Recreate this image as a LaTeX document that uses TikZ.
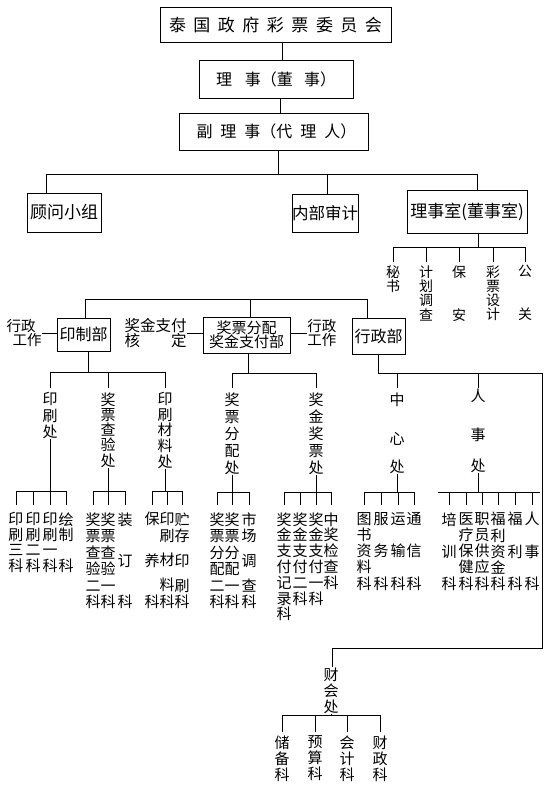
\documentclass[tikz,border=0pt]{standalone}
\usepackage{fontspec}
\newfontfamily\cjk{Noto Sans CJK SC}
\lineskiplimit=-30pt
\tikzset{
  fA/.style={font=\cjk\fontsize{17}{20}\selectfont},
  fB/.style={font=\cjk\fontsize{16}{19}\selectfont},
  fC/.style={font=\cjk\fontsize{16.5}{20}\selectfont},
  fU/.style={font=\cjk\fontsize{14}{14.3}\selectfont},
  fJ/.style={font=\cjk\fontsize{15}{14.5}\selectfont},
  fL/.style={font=\cjk\fontsize{14.5}{14.5}\selectfont},
  fH/.style={font=\cjk\fontsize{15.5}{15.5}\selectfont},
  f153/.style={font=\cjk\fontsize{15}{15.3}\selectfont},
  f155/.style={font=\cjk\fontsize{15}{15.5}\selectfont},
  f156/.style={font=\cjk\fontsize{15}{15.6}\selectfont},
  f158/.style={font=\cjk\fontsize{15}{15.8}\selectfont},
  f160/.style={font=\cjk\fontsize{15}{16}\selectfont},
  f162/.style={font=\cjk\fontsize{15}{16.2}\selectfont},
  f165/.style={font=\cjk\fontsize{15}{16.5}\selectfont},
  f170/.style={font=\cjk\fontsize{15}{17}\selectfont},
  bx/.style={draw,inner sep=0pt},
  vc/.style={align=center,anchor=north,inner sep=0pt},
  tk/.style={shorten >=#1},
  lab/.style={inner sep=0pt}
}
\begin{document}
\begin{tikzpicture}[x=1pt,y=-1pt,line width=0.85pt]
\useasboundingbox (0,0) rectangle (557,795);

% ---------- top chain
\node[bx,fA,minimum width=231pt,minimum height=35pt] (n1) at (275.5,24.5)
  {泰\hspace{7.5pt}国\hspace{7.5pt}政\hspace{7.5pt}府\hspace{7.5pt}彩\hspace{7.5pt}票\hspace{7.5pt}委\hspace{7.5pt}员\hspace{7.5pt}会};
\node[bx,fB,minimum width=154pt,minimum height=38pt] (n2) at (276,79)
  {理\hspace{13pt}事（董\hspace{11pt}事）};
\node[bx,fB,minimum width=189pt,minimum height=37pt] (n3) at (273.5,131.5)
  {\hspace*{6pt}副\hspace{8pt}理\hspace{8pt}事（代\hspace{8pt}理\hspace{8pt}人）};
\coordinate (k1) at (282,0);
\coordinate (k2) at (280,0);
\draw (n1.south -| k1) -- (n2.north -| k1);
\draw (n2.south -| k2) -- (n3.north -| k2);

% ---------- second level
\coordinate (tr) at (278,174);
\coordinate (h1) at (46,174);
\coordinate (h2) at (327,174);
\coordinate (h3) at (477,174);
\node[bx,fA,minimum width=74pt,minimum height=39pt] (gw) at (64,212.5) {顾问小组};
\node[bx,fC,minimum width=66pt,minimum height=38pt] (nb) at (325,213) {内部审计};
\node[bx,fA,minimum width=120pt,minimum height=43pt] (ls) at (467,211.5) {理事室(董事室)};
\draw (n3.south -| tr) -- (tr);
\draw (h1) -- (h3);
\draw (h1) -- (h1 |- gw.north);
\draw (h2) -- (h2 |- nb.north);
\draw (h3) -- (h3 |- ls.north);

% ---------- staff under ls
\coordinate (q) at (478,247);
\node[vc,fU] (ms) at (393,265) {秘\\书};
\node[vc,fU] (jh) at (426,265) {计\\划\\调\\查};
\node[vc,fU] (ba) at (459,265) {保\\[28.6pt]安};
\node[vc,fU] (cp) at (493,265) {彩\\票\\设\\计};
\node[vc,fU] (gg) at (525,265) {公\\[28.6pt]关};
\draw (ls.south -| q) -- (q);
\draw (ms.north |- q) -- (gg.north |- q);
\foreach \n in {ms,jh,ba,cp,gg}
  \draw[tk=3pt] (\n.north |- q) -- (\n.north);

% ---------- departments
\coordinate (m1) at (85,299);
\coordinate (m2) at (250,299);
\coordinate (m3) at (367,299);
\node[bx,fB,minimum width=53pt,minimum height=33pt] (yz) at (83.5,334.5) {印制部};
\node[bx,fJ,align=center,minimum width=87pt,minimum height=36pt] (jp) at (246.5,335) {奖票分配\\奖金支付部};
\node[bx,fB,minimum width=53pt,minimum height=36pt] (xz) at (378.5,336) {行政部};
\draw (m1) -- (m3);
\draw (m1) -- (m1 |- yz.north);
\draw (m2) -- (m2 |- jp.north);
\draw (m3) -- (m3 |- xz.north);

\node[lab,fL,align=left,anchor=east] (lx) at (42,333) {行政\\\hspace*{6pt}工作};
\node[lab,fH,align=left,anchor=east] (hd) at (187,333) {奖金支付\\核\hspace{31pt}定};
\node[lab,fL,align=center,anchor=west] (rx) at (307,333) {行政\\工作};
\draw (lx.east) -- (lx.east -| yz.west);
\draw (hd.east) -- (hd.east -| jp.west);
\draw (jp.east |- rx.west) -- (rx.west);

% ---------- 印制部 branch
\coordinate (y1) at (88,372);
\node[vc,f165] (c11) at (50,392) {印\\刷\\处};
\node[vc,f153] (c12) at (108,392) {奖\\票\\查\\验\\处};
\node[vc,f156] (c13) at (165,392) {印\\刷\\材\\料\\处};
\draw (yz.south -| y1) -- (y1);
\draw (c11.north |- y1) -- (c13.north |- y1);
\foreach \n in {c11,c12,c13}
  \draw[tk=4pt] (\n.north |- y1) -- (\n.north);

% ---------- 奖票分配 branch
\coordinate (j1) at (248,373);
\node[vc,f170] (c21) at (232,392) {奖\\票\\分\\配\\处};
\node[vc,f170] (c22) at (316,392) {奖\\金\\奖\\票\\处};
\draw (jp.south -| j1) -- (j1);
\draw (c21.north |- j1) -- (c22.north |- j1);
\foreach \n in {c21,c22}
  \draw[tk=4pt] (\n.north |- j1) -- (\n.north);

% ---------- 行政部 branch
\coordinate (x1) at (378,373);
\coordinate (x2) at (542,373);
\coordinate (x3) at (542,648);
\coordinate (x4) at (332,648);
\node[vc,f153] (c31) at (397,392) {中\\[24pt]心\\[13pt]处};
\node[vc,f153] (c32) at (478,389) {人\\[23pt]事\\[16pt]处};
\node[vc,f160] (c4) at (331,667) {财\\会\\处};
\draw (xz.south -| x1) -- (x1) -- (x2) -- (x3) -- (x4) -- (x4 |- c4.north);
\draw[tk=4pt] (c31.north |- x1) -- (c31.north);
\draw[tk=1pt] (c32.north |- x1) -- (c32.north);

% ---------- sections: 印刷处
\coordinate (g1) at (50,491);
\node[vc,f155] (s11) at (16,512) {印\\刷\\三\\科};
\node[vc,f155] (s12) at (33,512) {印\\刷\\二\\科};
\node[vc,f155] (s13) at (50,512) {印\\刷\\一\\科};
\node[vc,f155] (s14) at (66,512) {绘\\制\\[15.5pt]科};
\draw (c11.south) -- (g1);
\draw (s11.north |- g1) -- (s14.north |- g1);
\foreach \n in {s11,s12,s13,s14}
  \draw[tk=7pt] (\n.north |- g1) -- (\n.north);

% 奖票查验处
\coordinate (g2) at (108,491);
\node[vc,f165] (s21) at (93,512) {奖\\票\\查\\验\\二\\科};
\node[vc,f165] (s22) at (108,512) {奖\\票\\查\\验\\一\\科};
\node[vc,f165] (s23) at (125,512) {装\\[24.75pt]订\\[24.75pt]科};
\draw (c12.south) -- (g2);
\draw (s21.north |- g2) -- (s23.north |- g2);
\foreach \n in {s21,s22,s23}
  \draw[tk=7pt] (\n.north |- g2) -- (\n.north);

% 印刷材料处
\coordinate (g3) at (165,491);
\node[vc,f165] (s31) at (152,512) {保\\[24.75pt]养\\[24.75pt]科};
\node[vc,f165] (s32) at (167,512) {印\\刷\\[8.25pt]材\\[8.25pt]料\\科};
\node[vc,f165] (s33) at (182,512) {贮\\存\\[8.25pt]印\\[8.25pt]刷\\科};
\draw (c13.south) -- (g3);
\draw (s31.north |- g3) -- (s33.north |- g3);
\foreach \n in {s31,s32,s33}
  \draw[tk=7pt] (\n.north |- g3) -- (\n.north);

% 奖票分配处
\coordinate (g4) at (232,492);
\node[vc,f165] (s41) at (217,512) {奖\\票\\分\\配\\二\\科};
\node[vc,f165] (s42) at (232,512) {奖\\票\\分\\配\\一\\科};
\node[vc,f165] (s43) at (249,512) {市\\场\\[8.25pt]调\\[8.25pt]查\\科};
\draw (c21.south) -- (g4);
\draw (s41.north |- g4) -- (s43.north |- g4);
\foreach \n in {s41,s42,s43}
  \draw[tk=7pt] (\n.north |- g4) -- (\n.north);

% 奖金奖票处
\coordinate (g5) at (316,492);
\node[vc,f158] (s51) at (284,512) {奖\\金\\支\\付\\记\\录\\科};
\node[vc,f158] (s52) at (300,512) {奖\\金\\支\\付\\二\\科};
\node[vc,f158] (s53) at (316,512) {奖\\金\\支\\付\\一\\科};
\node[vc,f158] (s54) at (331,512) {中\\奖\\检\\查\\科};
\draw (c22.south) -- (g5);
\draw (s51.north |- g5) -- (s54.north |- g5);
\foreach \n in {s51,s52,s53,s54}
  \draw[tk=7pt] (\n.north |- g5) -- (\n.north);

% 中心处
\coordinate (g6) at (397,492);
\node[vc,f162] (s61) at (364,512) {图\\书\\资\\料\\科};
\node[vc,f162] (s62) at (381,512) {服\\[16.2pt]务\\[16.2pt]科};
\node[vc,f162] (s63) at (398,512) {运\\[16.2pt]输\\[16.2pt]科};
\node[vc,f162] (s64) at (414,512) {通\\[16.2pt]信\\[16.2pt]科};
\draw (c31.south) -- (g6);
\draw (s61.north |- g6) -- (s64.north |- g6);
\foreach \n in {s61,s62,s63,s64}
  \draw[tk=7pt] (\n.north |- g6) -- (\n.north);

% 人事处
\coordinate (g7) at (478,492);
\coordinate (g7a) at (438,492);
\coordinate (g7b) at (540,492);
\node[vc,f162] (s71) at (449,512) {培\\[16.2pt]训\\[16.2pt]科};
\node[vc,f162] (s72) at (466,512) {医\\疗\\保\\健\\科};
\node[vc,f162] (s73) at (482,512) {职\\员\\供\\应\\科};
\node[vc,f162] (s74) at (498,512) {福\\利\\资\\金\\科};
\node[vc,f162] (s75) at (515,512) {福\\[16.2pt]利\\[16.2pt]科};
\node[vc,f162] (s76) at (532,512) {人\\[16.2pt]事\\[16.2pt]科};
\draw (c32.south) -- (g7);
\draw (g7a) -- (g7b);
\foreach \n in {s71,s72,s73,s74,s75,s76}
  \draw[tk=7pt] (\n.north |- g7) -- (\n.north);

% 财会处
\coordinate (g8) at (331,715);
\node[vc,f160] (s81) at (282,735) {储\\备\\科};
\node[vc,f160] (s82) at (315,735) {预\\算\\科};
\node[vc,f160] (s83) at (347,735) {会\\计\\科};
\node[vc,f160] (s84) at (380,735) {财\\政\\科};
\draw (c4.south) -- (g8);
\draw (s81.north |- g8) -- (s84.north |- g8);
\foreach \n in {s81,s82,s83,s84}
  \draw[tk=3pt] (\n.north |- g8) -- (\n.north);
\end{tikzpicture}
\end{document}
